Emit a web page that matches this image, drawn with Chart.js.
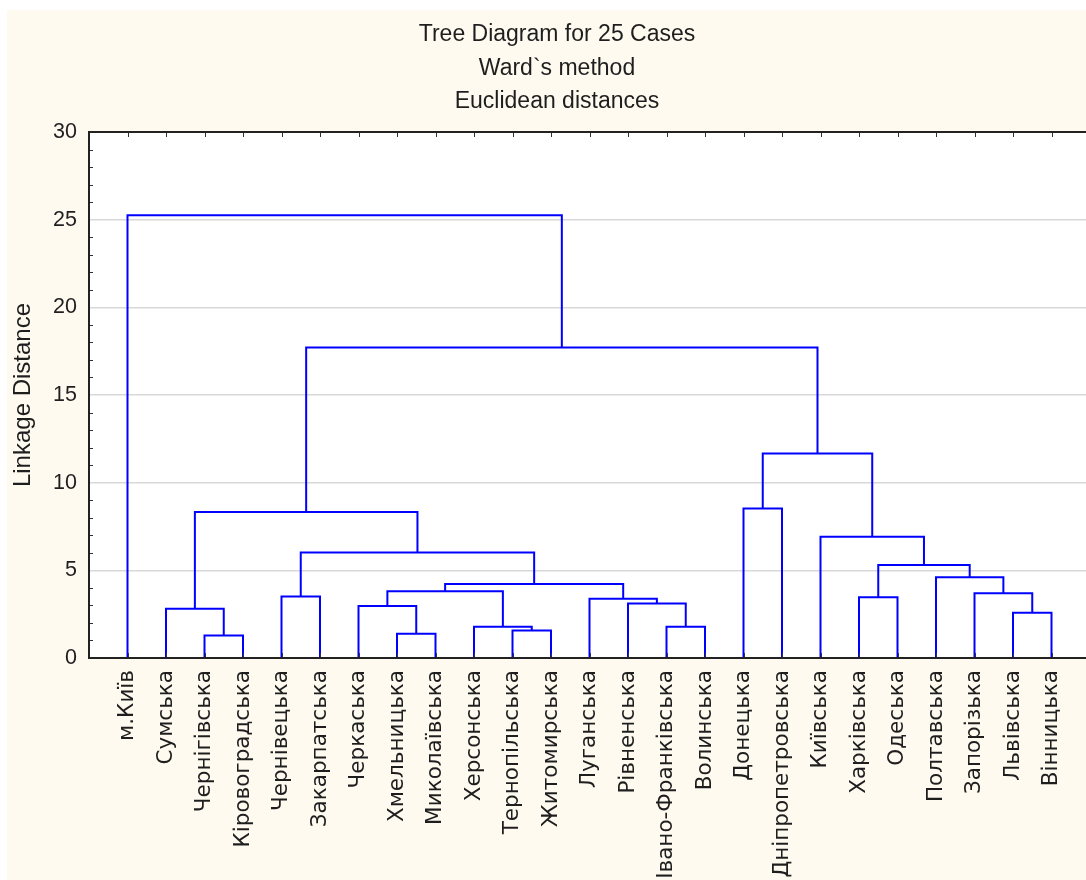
<!DOCTYPE html>
<html>
<head>
<meta charset="utf-8">
<script src="https://cdn.jsdelivr.net/npm/chart.js@4.4.1/dist/chart.umd.min.js"></script>
<style>
  html, body { margin: 0; padding: 0; background: #ffffff; overflow: hidden; width: 1086px; height: 880px; }
  #wrap { position: absolute; left: 0; top: 0; width: 1092px; height: 880px; }
</style>
</head>
<body>
<div id="wrap"><canvas id="c" width="1092" height="880"></canvas></div>
<script>
// Titles
const titleLines = ['Tree Diagram for 25 Cases', 'Ward`s method', 'Euclidean distances'];
const axisTitle = 'Linkage Distance';

// Leaves, in dendrogram order
const leafLabels = [
  'м.Київ', 'Сумська', 'Чернігівська', 'Кіровоградська', 'Чернівецька',
  'Закарпатська', 'Черкаська', 'Хмельницька', 'Миколаївська', 'Херсонська',
  'Тернопільська', 'Житомирська', 'Луганська', 'Рівненська', 'Івано-Франківська',
  'Волинська', 'Донецька', 'Дніпропетровська', 'Київська', 'Харківська',
  'Одеська', 'Полтавська', 'Запорізька', 'Львівська', 'Вінницька'
];

// Linkage table: ids 0..24 are leaves, merge k forms cluster 25 + k
const mergeA = [2, 7, 10, 9, 14, 23, 1, 6, 13, 12, 19, 4, 22, 32, 38, 21, 35, 36, 18, 31, 16, 45, 44, 0];
const mergeB = [3, 8, 11, 27, 15, 24, 25, 26, 29, 33, 20, 5, 30, 28, 34, 37, 40, 39, 41, 42, 17, 43, 46, 47];
const mergeHeight = [1.28, 1.38, 1.57, 1.78, 1.78, 2.58, 2.81, 2.97, 3.11, 3.38, 3.47, 3.51, 3.70, 3.80, 4.22, 4.60, 5.30, 6.01, 6.92, 8.33, 8.52, 11.67, 17.71, 25.25];

// Y axis tick values
const yTickValues = [0, 5, 10, 15, 20, 25, 30];

const FONT = '"Liberation Sans", Arial, sans-serif';
const LABEL_FONT = '"DejaVu Sans", "Liberation Sans", sans-serif';
const TEXT = '#1e1e1e';

// Build one bracket per merge: leg down to child A, bar across, leg down to child B
const pos = leafLabels.map((_, i) => i);
const hgt = leafLabels.map(() => 0);
const datasets = [];
mergeHeight.forEach((h, k) => {
  const a = mergeA[k], b = mergeB[k];
  datasets.push({
    data: [
      { x: pos[a], y: hgt[a] }, { x: pos[a], y: h },
      { x: pos[b], y: h }, { x: pos[b], y: hgt[b] }
    ],
    showLine: true,
    borderColor: '#0000ff',
    borderWidth: 2,
    pointRadius: 0,
    pointHoverRadius: 0,
    fill: false,
    tension: 0
  });
  pos.push((pos[a] + pos[b]) / 2);
  hgt.push(h);
});

const backdrop = {
  id: 'backdrop',
  beforeDraw(chart) {
    const { ctx, chartArea: ca } = chart;
    ctx.save();
    ctx.fillStyle = '#fefaf0';
    ctx.fillRect(7, 10, chart.width - 7, chart.height - 10);
    ctx.fillStyle = '#ffffff';
    ctx.fillRect(ca.left, ca.top, ca.right - ca.left, ca.bottom - ca.top);
    ctx.restore();
  }
};

const frame = {
  id: 'frame',
  afterDatasetsDraw(chart) {
    const { ctx, chartArea: ca, scales } = chart;
    const xs = scales.x, ys = scales.y;
    ctx.save();
    ctx.strokeStyle = '#333333';
    ctx.lineWidth = 1;
    ctx.beginPath();
    // inward ticks at each leaf, top and bottom
    leafLabels.forEach((_, i) => {
      const px = Math.round(xs.getPixelForValue(i)) + 0.5;
      ctx.moveTo(px, ca.top); ctx.lineTo(px, ca.top + 5);
      ctx.moveTo(px, ca.bottom); ctx.lineTo(px, ca.bottom - 5);
    });
    // minor ticks on the left, major ticks on the right
    for (let v = 1; v < 30; v++) {
      const py = Math.round(ys.getPixelForValue(v)) + 0.5;
      if (v % 5 !== 0) {
        ctx.moveTo(ca.left, py); ctx.lineTo(ca.left + 4, py);
      } else {
        ctx.moveTo(ca.right, py); ctx.lineTo(ca.right - 4, py);
      }
    }
    ctx.stroke();
    ctx.strokeStyle = '#222222';
    ctx.lineWidth = 2;
    ctx.strokeRect(ca.left, ca.top, ca.right - ca.left, ca.bottom - ca.top);
    ctx.restore();
  }
};

const titles = {
  id: 'titles',
  afterDraw(chart) {
    const ctx = chart.ctx;
    ctx.save();
    ctx.fillStyle = TEXT;
    ctx.font = '23px ' + FONT;
    ctx.textAlign = 'center';
    ctx.textBaseline = 'middle';
    titleLines.forEach((t, i) => ctx.fillText(t, 557, 35 + i * 33.5));
    ctx.restore();
  }
};

new Chart(document.getElementById('c'), {
  type: 'scatter',
  data: { datasets },
  options: {
    responsive: false,
    animation: false,
    events: [],
    layout: { padding: { left: 0, right: 2, top: 132, bottom: 0 } },
    plugins: { legend: { display: false }, tooltip: { enabled: false }, title: { display: false } },
    scales: {
      x: {
        type: 'linear',
        min: -1,
        max: 25,
        grid: { display: false, drawTicks: false },
        border: { display: false },
        afterBuildTicks: s => { s.ticks = leafLabels.map((_, i) => ({ value: i })); },
        afterFit: s => { s.height = 222; },
        ticks: {
          autoSkip: false,
          maxRotation: 90,
          minRotation: 90,
          padding: 12,
          color: TEXT,
          font: { family: LABEL_FONT, size: 21.5 },
          callback: v => leafLabels[v] ?? ''
        }
      },
      y: {
        min: 0,
        max: 30,
        afterBuildTicks: s => { s.ticks = yTickValues.map(v => ({ value: v })); },
        afterFit: s => { s.width = 89; },
        grid: { color: '#d8d8d8', lineWidth: 1.5, drawTicks: false },
        border: { display: false },
        ticks: {
          padding: 12,
          color: TEXT,
          font: { family: FONT, size: 21.5 }
        },
        title: {
          display: true,
          text: axisTitle,
          color: TEXT,
          font: { family: FONT, size: 24 },
          padding: { top: 9, bottom: 0 }
        }
      }
    }
  },
  plugins: [backdrop, frame, titles]
});
</script>
</body>
</html>
